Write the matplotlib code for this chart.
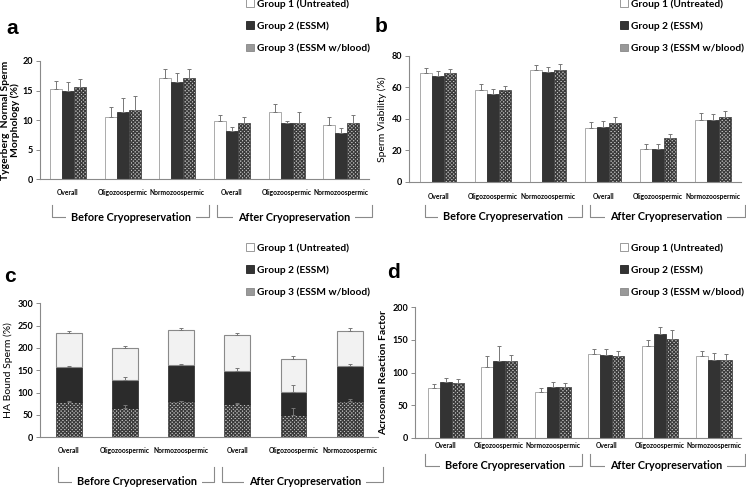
import numpy as np
import matplotlib
matplotlib.use("Agg")
import matplotlib.pyplot as plt
from matplotlib.patches import Patch
from matplotlib.lines import Line2D
import matplotlib.transforms as mtransforms

# categories shared by all four panels
cats = ["Overall", "Oligozoospermic", "Normozoospermic",
        "Overall", "Oligozoospermic", "Normozoospermic"]
groups = ["Group 1 (Untreated)", "Group 2 (ESSM)", "Group 3 (ESSM w/blood)"]
periods = ["Before Cryopreservation", "After Cryopreservation"]

# panel a - Tygerberg normal morphology (%)
morph_g1 = [15.2, 10.5, 17.2, 9.9, 11.3, 9.1]
morph_g1_err = [1.4, 1.7, 1.4, 1.0, 1.5, 1.5]
morph_g2 = [15.0, 11.4, 16.4, 8.2, 9.5, 7.8]
morph_g2_err = [1.4, 2.4, 1.5, 0.6, 0.3, 0.8]
morph_g3 = [15.55, 11.7, 17.1, 9.5, 9.6, 9.5]
morph_g3_err = [1.4, 2.3, 1.5, 1.0, 1.8, 1.4]

# panel b - viability (%)
viab_g1 = [69.0, 58.5, 71.0, 34.4, 20.6, 39.5]
viab_g1_err = [3.3, 3.6, 3.2, 3.6, 3.2, 4.0]
viab_g2 = [67.5, 55.8, 69.8, 35.0, 20.6, 39.5]
viab_g2_err = [2.8, 3.0, 3.0, 3.4, 3.2, 3.6]
viab_g3 = [69.0, 58.3, 71.0, 37.6, 27.6, 41.0]
viab_g3_err = [2.8, 2.8, 3.7, 3.4, 2.8, 3.8]

# panel c - HA bound sperm (%), stacked (group 3 at the bottom)
ha_g1 = [75.3, 70.2, 79.1, 79.9, 73.9, 79.0]
ha_g1_err = [5.2, 5.2, 3.8, 5.2, 5.9, 6.0]
ha_g2 = [77.6, 63.4, 80.6, 73.1, 52.2, 78.4]
ha_g2_err = [2.2, 5.2, 2.1, 6.0, 15.5, 5.0]
ha_g3 = [79.9, 65.7, 81.3, 75.4, 49.3, 80.6]
ha_g3_err = [1.0, 6.0, 1.0, 1.5, 15.7, 5.0]

# panel d - acrosomal reaction factor
acro_g1 = [75.7, 108.0, 69.6, 127.9, 140.7, 124.8]
acro_g1_err = [6.7, 18.0, 6.1, 7.6, 8.7, 8.7]
acro_g2 = [84.9, 118.0, 78.3, 126.9, 159.6, 119.7]
acro_g2_err = [7.1, 22.0, 7.1, 8.6, 9.7, 9.7]
acro_g3 = [83.4, 117.0, 77.2, 124.8, 152.0, 119.7]
acro_g3_err = [6.1, 10.0, 6.7, 7.7, 12.7, 8.7]

W, H = 746, 488
TXT = "Lato"
GRAY = "#8a8a8a"
CHECK = "#3a3a3a"
plt.rcParams["hatch.color"] = CHECK
plt.rcParams["hatch.linewidth"] = 0.9

fig = plt.figure(figsize=(W / 100, H / 100), dpi=100)


def px_rect(l, t, r, b):
    return [l / W, (H - b) / H, (r - l) / W, (b - t) / H]


def style_axes(ax, ymax, step, xleft, cat_pad):
    x = np.arange(len(cats))
    ax.set_xlim(xleft, 5.5)
    ax.set_ylim(0, ymax)
    ax.set_yticks(np.arange(0, ymax + 1, step))
    for s in ["top", "right"]:
        ax.spines[s].set_visible(False)
    for s in ["left", "bottom"]:
        ax.spines[s].set_color(GRAY)
        ax.spines[s].set_linewidth(0.8)
    ax.tick_params(axis="y", length=3, width=0.7, color=GRAY, pad=2)
    ax.tick_params(axis="x", length=0, pad=cat_pad)
    ax.set_xticks(x)
    ax.set_xticklabels(cats, fontsize=4.8, fontweight="bold", family=TXT)
    for lab in ax.get_yticklabels():
        lab.set_fontsize(6.5)
        lab.set_fontweight("bold")
        lab.set_family(TXT)


def brackets(ax, spans, centers, ytop, ybot):
    trans = mtransforms.blended_transform_factory(ax.transData, ax.transAxes)
    for (x0, x1), xc, label in zip(spans, centers, periods):
        ax.add_line(Line2D([x0, x0, x1, x1], [ytop, ybot, ybot, ytop],
                           transform=trans, color=GRAY, lw=0.8, clip_on=False))
        ax.text(xc, ybot, label, transform=trans, ha="center", va="center",
                fontsize=7.8, fontweight="bold", family=TXT,
                bbox=dict(facecolor="white", edgecolor="none", pad=3.5))


def grouped_bars(ax, vals, errs, width):
    x = np.arange(len(cats))
    faces = ["white", "#333333", "#c4c4c4"]
    edges = [GRAY, "#222222", CHECK]
    hatches = [None, None, "xxxxxxxxx"]
    for i, (v, e) in enumerate(zip(vals, errs)):
        pos = x + (i - 1) * width
        ax.bar(pos, v, width, color=faces[i], edgecolor=edges[i], linewidth=0.5,
               hatch=hatches[i], zorder=2)
        ax.errorbar(pos, v, yerr=[np.zeros(len(e)), e], fmt="none",
                    ecolor="#777777", elinewidth=0.7, capsize=1.5, capthick=0.7,
                    zorder=3)


def legend(x, y):
    handles = [Patch(facecolor="white", edgecolor=GRAY, linewidth=0.6),
               Patch(facecolor="#333333", edgecolor="#222222", linewidth=0.6),
               Patch(facecolor="#999999", edgecolor="#888888", linewidth=0.6)]
    fig.legend(handles, groups, loc="upper left",
               bbox_to_anchor=(x / W, 1 - y / H), frameon=False,
               handlelength=0.8, handleheight=0.8, handletextpad=0.3,
               labelspacing=1.25, borderpad=0, borderaxespad=0,
               prop=dict(family=TXT, weight="bold", size=7.3))


# ---- panel a
ax_a = fig.add_axes(px_rect(40, 61, 368.7, 179.3))
grouped_bars(ax_a, [morph_g1, morph_g2, morph_g3],
             [morph_g1_err, morph_g2_err, morph_g3_err], 0.22)
style_axes(ax_a, 20, 5, -0.51, 7)
ax_a.set_ylabel("Tygerberg  Normal Sperm\nMorphology (%)", fontsize=7.5,
                fontweight="bold", family=TXT, labelpad=2, linespacing=1.0)
brackets(ax_a, [(-0.29, 2.58), (2.72, 5.56)], [1.16, 4.14], -0.217, -0.319)
legend(246, -1)
fig.text(12 / W, 1 - 28 / H, "a", fontsize=15, fontweight="bold",
         family="Liberation Sans", ha="center", va="center")

# ---- panel b
ax_b = fig.add_axes(px_rect(409, 56, 740.6, 181.7))
grouped_bars(ax_b, [viab_g1, viab_g2, viab_g3],
             [viab_g1_err, viab_g2_err, viab_g3_err], 0.22)
style_axes(ax_b, 80, 20, -0.53, 8)
ax_b.set_ylabel("Sperm Viability (%)", fontsize=7.5, family=TXT, labelpad=3)
brackets(ax_b, [(-0.24, 2.62), (2.76, 5.58)], [1.18, 4.15], -0.185, -0.28)
legend(620, -1)
fig.text(381 / W, 1 - 27 / H, "b", fontsize=15, fontweight="bold",
         family="Liberation Sans", ha="center", va="center")

# ---- panel c (stacked)
ax_c = fig.add_axes(px_rect(40, 303.3, 377.8, 437.3))
xc = np.arange(len(cats))
bottom2 = np.array(ha_g3)
bottom1 = bottom2 + np.array(ha_g2)
ax_c.bar(xc, ha_g3, 0.46, color="#c4c4c4", edgecolor=CHECK, linewidth=0.5,
         hatch="xxxxxxxxx", zorder=2)
ax_c.bar(xc, ha_g2, 0.46, bottom=bottom2, color="#2b2b2b", edgecolor="#222222",
         linewidth=0.5, zorder=2)
ax_c.bar(xc, ha_g1, 0.46, bottom=bottom1, color="#f2f2f2", edgecolor=GRAY,
         linewidth=0.8, zorder=2)
for top, e in [(bottom2, ha_g3_err), (bottom1, ha_g2_err),
               (bottom1 + np.array(ha_g1), ha_g1_err)]:
    ax_c.errorbar(xc, top, yerr=[np.zeros(len(e)), e], fmt="none",
                  ecolor="#777777", elinewidth=0.7, capsize=1.5, capthick=0.7,
                  zorder=3)
style_axes(ax_c, 300, 50, -0.51, 7)
ax_c.set_ylabel("HA Bound Sperm (%)", fontsize=7.5, family=TXT, labelpad=3)
brackets(ax_c, [(-0.19, 2.59), (2.73, 5.6)], [1.22, 4.2], -0.22, -0.33)
legend(246, 243)
fig.text(10 / W, 1 - 276 / H, "c", fontsize=15, fontweight="bold",
         family="Liberation Sans", ha="center", va="center")

# ---- panel d
ax_d = fig.add_axes(px_rect(415, 307.3, 740.5, 437.7))
grouped_bars(ax_d, [acro_g1, acro_g2, acro_g3],
             [acro_g1_err, acro_g2_err, acro_g3_err], 0.224)
style_axes(ax_d, 200, 50, -0.57, 3)
ax_d.set_ylabel("Acrosomal Reaction Factor", fontsize=7.5, fontweight="bold",
                family=TXT, labelpad=3)
brackets(ax_d, [(-0.39, 2.55), (2.69, 5.59)], [1.1, 4.12], -0.125, -0.215)
legend(620, 243)
fig.text(393 / W, 1 - 272 / H, "d", fontsize=15, fontweight="bold",
         family="Liberation Sans", ha="center", va="center")

fig.savefig("out.png", dpi=100)
